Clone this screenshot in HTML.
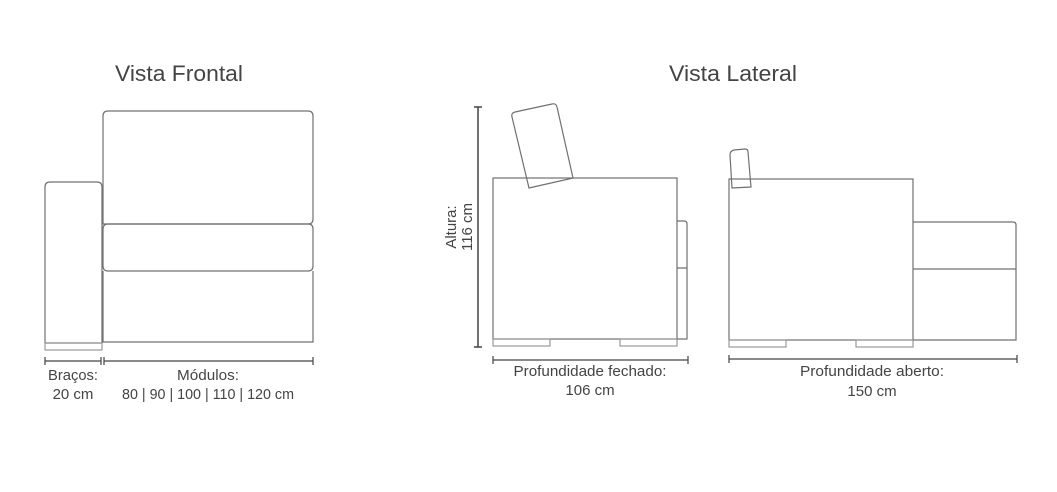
<!DOCTYPE html>
<html><head><meta charset="utf-8"><style>
html,body{margin:0;padding:0;background:#fff;}
svg{display:block;}
text{font-family:"Liberation Sans",sans-serif;fill:#444;}
</style></head><body>
<svg width="1057" height="492" viewBox="0 0 1057 492" xmlns="http://www.w3.org/2000/svg">
<g fill="none" stroke="#707070" stroke-width="1.2">
<path d="M45,343 V187 Q45,182 50,182 H97 Q102,182 102,187 V343 Z"/>
<rect x="45" y="343" width="57" height="7" stroke="#999"/>
<path d="M103,224 V116 Q103,111 108,111 H308 Q313,111 313,116 V219 Q313,224 308,224 Z"/>
<path d="M103,266 V229 Q103,224 108,224 H308 Q313,224 313,229 V266 Q313,271 308,271 H108 Q103,271 103,266 Z"/>
<path d="M103,271 V342 H313 V271"/>
<path d="M45,361 H101 M104,361 H313" stroke="#444"/>
<path d="M45,357 V365 M101,357 V365 M104,357 V365 M313,357 V365" stroke="#444"/>
<path d="M478,107 V347 M474,107 H482 M474,347 H482" stroke="#444" stroke-width="1.5"/>
<rect x="493" y="178" width="184" height="161"/>
<rect x="493" y="339" width="57" height="7" stroke="#999"/>
<rect x="620" y="339" width="57" height="7" stroke="#999"/>
<path d="M677,221 H684 Q687,221 687,224 V268 H677 M687,268 V339 H677"/>
<path d="M512,117 Q511,113 515,112 L552,104 Q556,103 557,107 L573,178 L529,188 Z"/>
<path d="M493,360 H688 M493,356 V364 M688,356 V364" stroke="#444"/>
<rect x="729" y="179" width="184" height="161"/>
<rect x="729" y="340" width="57" height="7" stroke="#999"/>
<rect x="856" y="340" width="57" height="7" stroke="#999"/>
<path d="M913,222 H1013 Q1016,222 1016,225 V269 H913 M1016,269 V340 H913"/>
<path d="M730,155 Q730,151 734,150 L745,149 Q748,149 748,152 L751,187 L732,188 Z"/>
<path d="M729,359 H1017 M729,355 V363 M1017,355 V363" stroke="#444"/>
</g>
<text x="179" y="81" font-size="22" text-anchor="middle" textLength="128" lengthAdjust="spacingAndGlyphs">Vista Frontal</text>
<text x="733" y="81" font-size="22" text-anchor="middle" textLength="128" lengthAdjust="spacingAndGlyphs">Vista Lateral</text>
<text x="73" y="380" font-size="15" text-anchor="middle" textLength="50" lengthAdjust="spacingAndGlyphs">Braços:</text>
<text x="73" y="399" font-size="15" text-anchor="middle">20 cm</text>
<text x="208" y="380" font-size="15" text-anchor="middle" textLength="62" lengthAdjust="spacingAndGlyphs">Módulos:</text>
<text x="208" y="399" font-size="15" text-anchor="middle" textLength="172" lengthAdjust="spacingAndGlyphs">80 | 90 | 100 | 110 | 120 cm</text>
<text x="590" y="376" font-size="15" text-anchor="middle" textLength="153" lengthAdjust="spacingAndGlyphs">Profundidade fechado:</text>
<text x="590" y="395" font-size="15" text-anchor="middle">106 cm</text>
<text x="872" y="376" font-size="15" text-anchor="middle" textLength="144" lengthAdjust="spacingAndGlyphs">Profundidade aberto:</text>
<text x="872" y="396" font-size="15" text-anchor="middle">150 cm</text>
<text transform="translate(456,227) rotate(-90)" font-size="15" text-anchor="middle">Altura:</text>
<text transform="translate(472,227) rotate(-90)" font-size="15" text-anchor="middle">116 cm</text>
</svg>
</body></html>
